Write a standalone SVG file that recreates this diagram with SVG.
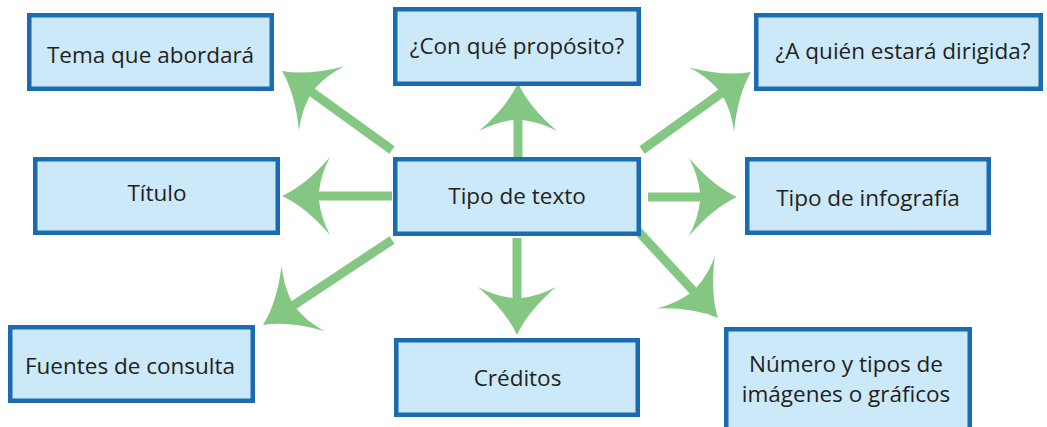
<svg xmlns="http://www.w3.org/2000/svg" width="1047" height="427" viewBox="0 0 1047 427">
<style>
.box{fill:#cce9f9;stroke:#1a6bb0;stroke-width:4.5}
.lbl{font-family:"Open Sans","Liberation Sans",sans-serif;font-size:22.5px;fill:#231f20;text-anchor:middle}
.shaft{stroke:#83c783;stroke-width:9;fill:none}
.head{fill:#83c783}
</style>
<defs>
<path id="ah" d="M0,0 Q-24,-11 -48,-39 Q-39,-22 -37,-4.5 L-37,4.5 Q-39,22 -48,39 Q-24,11 0,0 Z"/>
</defs>
<rect width="1047" height="427" fill="#ffffff"/>
<g id="connectors">
<line class="shaft" x1="518" y1="158" x2="518" y2="110"/>
<use href="#ah" class="head" transform="translate(518,83) rotate(-90)"/>
<line class="shaft" x1="392" y1="196" x2="310" y2="196"/>
<use href="#ah" class="head" transform="translate(282,196) rotate(180)"/>
<line class="shaft" x1="392" y1="150" x2="306" y2="88"/>
<use href="#ah" class="head" transform="translate(282,71) rotate(215)"/>
<line class="shaft" x1="642" y1="150" x2="727" y2="89"/>
<use href="#ah" class="head" transform="translate(751,72) rotate(-35)"/>
<line class="shaft" x1="648" y1="197" x2="710" y2="197"/>
<use href="#ah" class="head" transform="translate(737,197) rotate(0)"/>
<line class="shaft" x1="392" y1="240" x2="288" y2="309"/>
<use href="#ah" class="head" transform="translate(263,325) rotate(146.6)"/>
<line class="shaft" x1="517" y1="238" x2="517" y2="308"/>
<use href="#ah" class="head" transform="translate(517,335) rotate(90)"/>
<line class="shaft" x1="637" y1="230" x2="698" y2="296"/>
<use href="#ah" class="head" transform="translate(718,318) rotate(48)"/>
</g>
<g id="tema"><rect class="box" x="29.25" y="15.25" width="242.5" height="73.5"/><text class="lbl" x="150.5" y="63">Tema que abordará</text></g>
<g id="proposito"><rect class="box" x="395.25" y="9.25" width="243.5" height="74.5"/><text class="lbl" x="517" y="54">¿Con qué propósito?</text></g>
<g id="aquien"><rect class="box" x="756.25" y="15.25" width="284.5" height="73.5"/><text class="lbl" x="903" y="59">¿A quién estará dirigida?</text></g>
<g id="titulo"><rect class="box" x="35.25" y="159.25" width="242.5" height="73.5"/><text class="lbl" x="157" y="201">Título</text></g>
<g id="tipotexto"><rect class="box" x="395.25" y="159.25" width="243.5" height="74.5"/><text class="lbl" x="517" y="204">Tipo de texto</text></g>
<g id="infografia"><rect class="box" x="747.25" y="159.25" width="241.5" height="73.5"/><text class="lbl" x="868" y="206">Tipo de infografía</text></g>
<g id="fuentes"><rect class="box" x="10.25" y="327.25" width="242.5" height="73.5"/><text class="lbl" x="130" y="374">Fuentes de consulta</text></g>
<g id="creditos"><rect class="box" x="396.25" y="340.25" width="241.5" height="74.5"/><text class="lbl" x="517.5" y="386">Créditos</text></g>
<g id="numero"><rect class="box" x="726.25" y="329.25" width="243.5" height="102"/><text class="lbl" x="846" y="372">Número y tipos de</text><text class="lbl" x="846" y="402">imágenes o gráficos</text></g>
</svg>
